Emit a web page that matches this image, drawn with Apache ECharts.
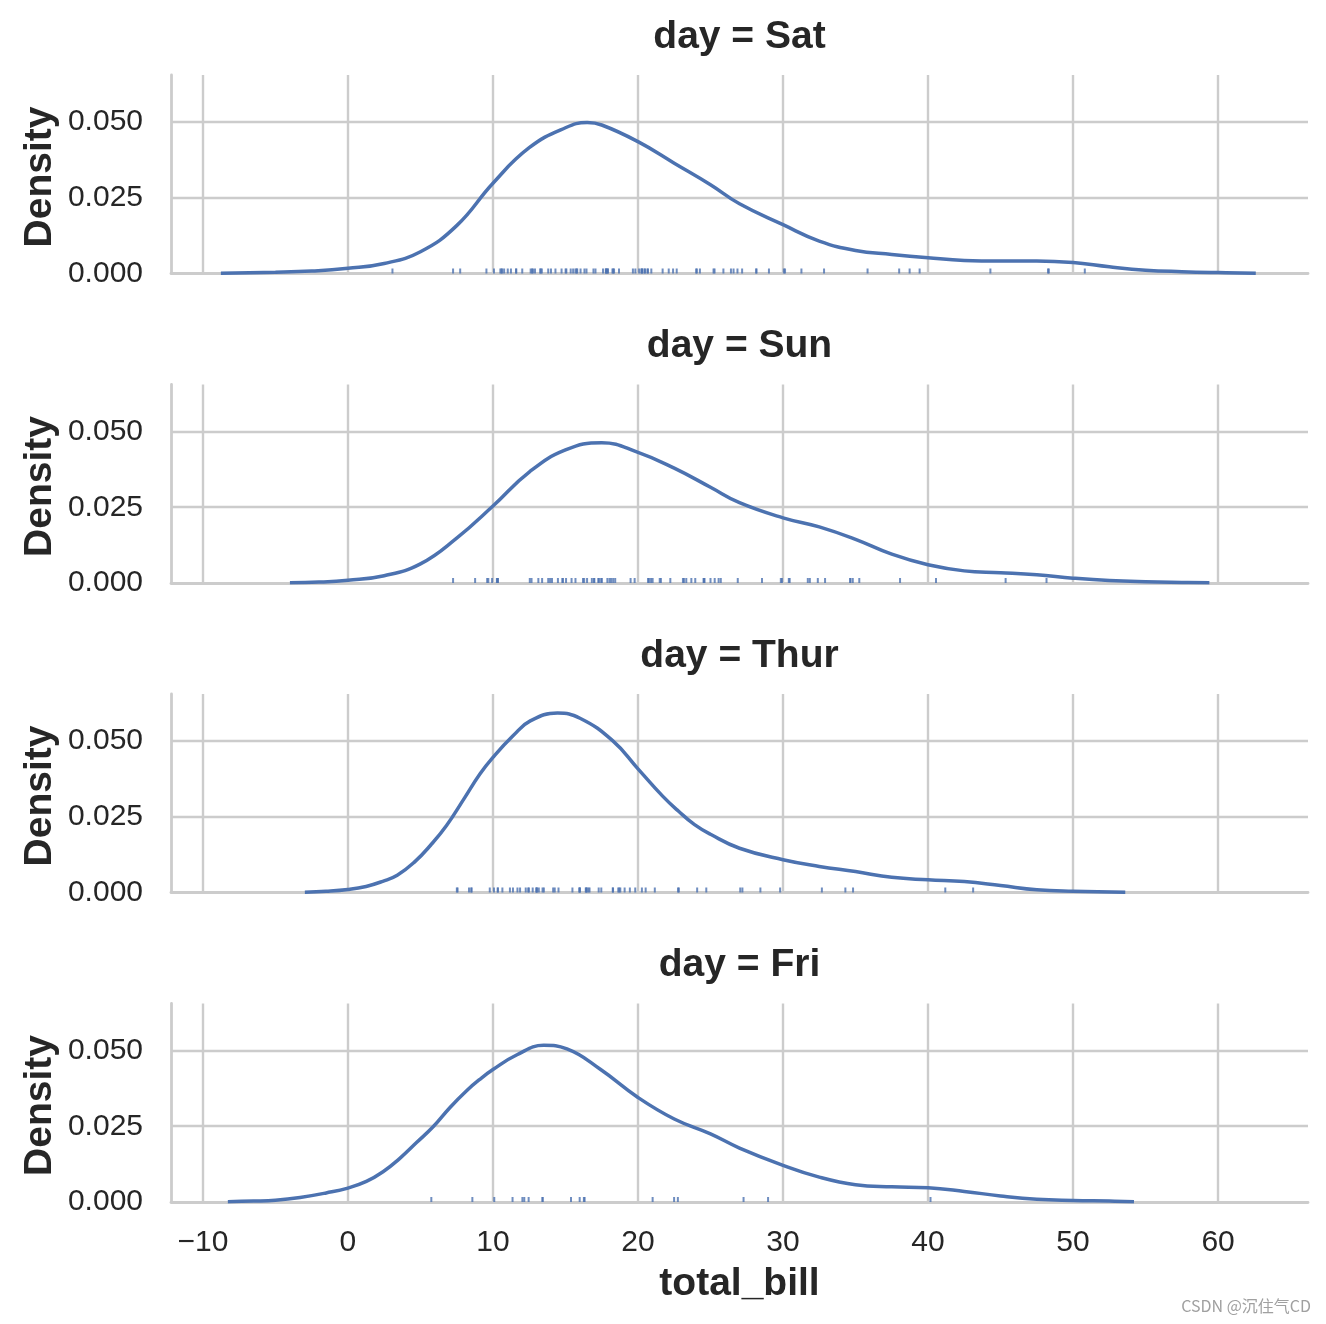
<!DOCTYPE html>
<html>
<head>
<meta charset="utf-8">
<script src="https://cdn.jsdelivr.net/npm/echarts@6/dist/echarts.min.js"></script>
<style>
  html, body { margin: 0; padding: 0; background: #fff; }
  #chart { width: 1326px; height: 1324px; }
</style>
</head>
<body>
<div id="chart"></div>
<script>
// facets, top to bottom
const days = ['Sat', 'Sun', 'Thur', 'Fri'];

// rug values (total_bill per day)
const satBill = [20.65, 17.92, 20.29, 15.77, 39.42, 19.82, 17.81, 13.37, 12.69, 21.70, 19.65, 9.55, 18.35, 15.06, 20.69, 17.78, 24.06, 16.31, 16.93, 18.69, 31.27, 16.04,
  38.01, 26.41, 11.24, 48.27, 20.29, 13.81, 11.02, 18.29, 17.59, 20.08, 16.45, 3.07, 20.23, 15.01, 12.02, 17.07, 26.86, 25.28, 14.73, 10.51, 17.92,
  44.30, 22.42, 20.92, 15.36, 20.49, 25.21, 18.24, 14.31, 14.00, 7.25, 10.59, 10.63, 50.81, 15.81,
  26.59, 38.73, 24.27, 12.76, 30.06, 25.89, 48.33, 13.27, 28.17, 12.90, 28.15, 11.59, 7.74, 30.14,
  20.45, 13.28, 22.12, 24.01, 15.69, 11.61, 10.77, 15.53, 10.07, 12.60, 32.83, 35.83, 29.03, 27.18, 22.67, 17.82];
const sunBill = [16.99, 10.34, 21.01, 23.68, 24.59, 25.29, 8.77, 26.88, 15.04, 14.78, 10.27, 35.26, 15.42, 18.43, 14.83, 21.58, 10.33, 16.29, 16.97,
  17.46, 13.94, 9.68, 30.40, 18.29, 22.23, 32.40, 28.55, 18.04, 12.54, 10.29, 34.81, 9.94, 25.56, 19.49,
  38.07, 23.95, 25.71, 17.31, 29.93,
  14.07, 13.13, 17.26, 24.55, 19.77, 29.85, 48.17, 25.00, 13.39, 16.49, 21.50, 12.66, 16.21, 13.81, 17.51, 24.52, 20.76, 31.71,
  7.25, 31.85, 16.82, 32.90, 17.89, 14.48, 9.60, 34.63, 34.65, 23.33, 45.35, 23.17, 40.55, 20.69, 20.90, 30.46, 18.15, 23.10, 15.69];
const thurBill = [27.20, 22.76, 17.29, 19.44, 16.66, 10.07, 32.68, 15.98, 34.83, 13.03, 18.28, 24.71, 21.16,
  10.65, 12.43, 24.08, 11.69, 13.42, 14.26, 15.95, 12.48, 29.80, 8.52, 14.52, 11.38, 22.82, 19.08, 20.27, 11.17, 12.26, 18.26, 8.51, 10.33,
  14.15, 16.00, 13.16, 17.47, 34.30, 41.19, 27.05, 16.43, 8.35, 18.64, 11.87, 9.78, 7.51,
  19.81, 28.44, 15.48, 16.58, 7.56, 10.34, 43.11, 13.00, 13.51, 18.71, 12.74, 13.00, 16.40, 20.53, 16.47, 18.78];
const friBill = [28.97, 22.49, 5.75, 16.32, 22.75, 40.17, 27.28, 12.03, 21.01, 12.46, 11.35, 15.38,
  12.16, 13.42, 8.58, 15.98, 13.42, 16.27, 10.09];

// density curves
const satX = [-8.76, -5, -2.5, 0, 2.5, 5, 7.5, 10, 12.5, 15, 16.5, 17.5, 20, 22.5, 25, 27, 30, 32.5, 35, 37.5, 40, 42.5, 45, 47.5, 50, 52.5, 55, 57.5, 60, 62.6];
const satY = [0.0001, 0.0004, 0.0008, 0.0017, 0.0033, 0.0072, 0.0158, 0.0298, 0.0415, 0.0481, 0.0498, 0.0490, 0.0435, 0.0364, 0.0293, 0.0230, 0.0161, 0.0107, 0.0076, 0.0063, 0.0052, 0.0043, 0.0041, 0.0041, 0.0036, 0.0022, 0.0011, 0.0006, 0.0003, 0.0001];
const sunX = [-4.0, -2, 0, 2.5, 5, 7.5, 10, 12.5, 15, 17.5, 20, 22.5, 25, 27, 30, 32.5, 35, 37.5, 40, 42.5, 45, 47.5, 50, 52.5, 55, 57.5, 59.4];
const sunY = [0.0001, 0.0003, 0.0009, 0.0024, 0.0063, 0.0148, 0.0254, 0.0366, 0.0439, 0.0463, 0.0431, 0.0379, 0.0316, 0.0265, 0.0215, 0.0185, 0.0144, 0.0095, 0.0060, 0.0040, 0.0034, 0.0027, 0.0016, 0.0008, 0.0004, 0.0002, 0.0001];
const thurX = [-2.97, -1.5, 0, 1.25, 2.4, 3.4, 4.6, 5.7, 6.8, 8.0, 9.1, 10, 11.4, 12.6, 14.45, 16, 18.25, 20, 21.7, 22.8, 23.9, 25, 27, 30, 32.5, 35, 37.5, 40, 42.5, 45, 47.5, 50, 53.6];
const thurY = [0.0001, 0.0004, 0.0010, 0.0020, 0.0037, 0.0057, 0.0101, 0.0156, 0.0221, 0.0309, 0.0391, 0.0446, 0.0518, 0.0567, 0.0592, 0.0575, 0.0501, 0.0408, 0.0318, 0.0268, 0.0224, 0.0192, 0.0146, 0.0108, 0.0086, 0.0069, 0.0050, 0.0042, 0.0036, 0.0023, 0.0009, 0.0004, 0.0001];
const friX = [-8.28, -6.5, -5, -3.3, -1.5, 0, 1.27, 2.42, 3.58, 4.73, 5.89, 7.04, 8.2, 9.1, 10, 11.66, 13.5, 15.1, 17.4, 20, 22.5, 25, 27, 30, 32.5, 35, 37.5, 40, 42.5, 45, 47.5, 50, 52.5, 54.2];
const friY = [0.0001, 0.0003, 0.0006, 0.0015, 0.0030, 0.0046, 0.0068, 0.0100, 0.0144, 0.0196, 0.0249, 0.0312, 0.0368, 0.0405, 0.0437, 0.0486, 0.0517, 0.0505, 0.0438, 0.0345, 0.0274, 0.0225, 0.0178, 0.0121, 0.0082, 0.0057, 0.0050, 0.0047, 0.0035, 0.0020, 0.0009, 0.0005, 0.0003, 0.0001];

const rugs = [satBill, sunBill, thurBill, friBill];
const curvesX = [satX, sunX, thurX, friX];
const curvesY = [satY, sunY, thurY, friY];

const FONT = '"Liberation Sans", Arial, sans-serif';
const TEXT = '#262626';
const GRID = '#cccccc';
const BLUE = '#4c72b0';
const rowTop = 75, rowStep = 309.5, rowH = 198.5;

const chart = echarts.init(document.getElementById('chart'));

let grids = [], xAxes = [], yAxes = [], series = [], graphics = [];
days.forEach((day, i) => {
  const top = rowTop + i * rowStep;
  const last = i === days.length - 1;
  grids.push({ left: 171, right: 18, top: top, height: rowH, containLabel: false });
  xAxes.push({
    type: 'value', gridIndex: i, min: -12.2, max: 66.2, splitNumber: 8,
    axisLine: { show: true, onZero: false, lineStyle: { color: GRID, width: 2.8 } },
    axisTick: { show: false },
    axisLabel: {
      show: last, color: TEXT, fontSize: 30, fontFamily: FONT, margin: 26,
      showMinLabel: false, showMaxLabel: false,
      formatter: v => String(v).replace('-', '\u2212')
    },
    splitLine: { show: true, showMinLine: false, showMaxLine: false, lineStyle: { color: GRID, width: 2.4 } }
  });
  yAxes.push({
    type: 'value', gridIndex: i, min: 0, max: 0.0655, interval: 0.025,
    axisLine: { show: true, onZero: false, lineStyle: { color: GRID, width: 2.8 } },
    axisTick: { show: false },
    axisLabel: {
      color: TEXT, fontSize: 30, fontFamily: FONT, margin: 28, padding: [4, 0, 0, 0],
      showMaxLabel: false, formatter: v => v.toFixed(3)
    },
    splitLine: { show: true, showMinLine: false, showMaxLine: false, lineStyle: { color: GRID, width: 2.4 } }
  });
  series.push({
    type: 'line', xAxisIndex: i, yAxisIndex: i,
    data: curvesX[i].map((x, k) => [x, curvesY[i][k]]),
    showSymbol: false, smooth: 0.45,
    lineStyle: { color: BLUE, width: 3.5 }, z: 3
  });
  series.push({
    type: 'scatter', xAxisIndex: i, yAxisIndex: i,
    data: rugs[i].map(v => [v, 0]),
    symbol: 'rect', symbolSize: [2, 5], symbolOffset: [0, -2.5],
    itemStyle: { color: BLUE }, z: 2, silent: true
  });
  graphics.push({
    type: 'text', x: 739.5, y: 37 + i * rowStep,
    style: { text: 'day = ' + day, font: 'bold 39px ' + FONT, fill: TEXT, textAlign: 'center', textVerticalAlign: 'middle' }
  });
  graphics.push({
    type: 'text', x: 40, y: 177 + i * rowStep, rotation: Math.PI / 2,
    style: { text: 'Density', font: 'bold 39px ' + FONT, fill: TEXT, textAlign: 'center', textVerticalAlign: 'middle' }
  });
});

graphics.push({
  type: 'text', x: 739.5, y: 1284,
  style: { text: 'total_bill', font: 'bold 39px ' + FONT, fill: TEXT, textAlign: 'center', textVerticalAlign: 'middle' }
});
graphics.push({
  type: 'text', x: 1311, y: 1306,
  style: { text: 'CSDN @沉住气CD', font: '16px "Noto Sans CJK SC", ' + FONT, fill: '#a0a0a0', textAlign: 'right', textVerticalAlign: 'middle' }
});

chart.setOption({
  backgroundColor: '#fff',
  animation: false,
  grid: grids,
  xAxis: xAxes,
  yAxis: yAxes,
  series: series,
  graphic: graphics
});
</script>
</body>
</html>
